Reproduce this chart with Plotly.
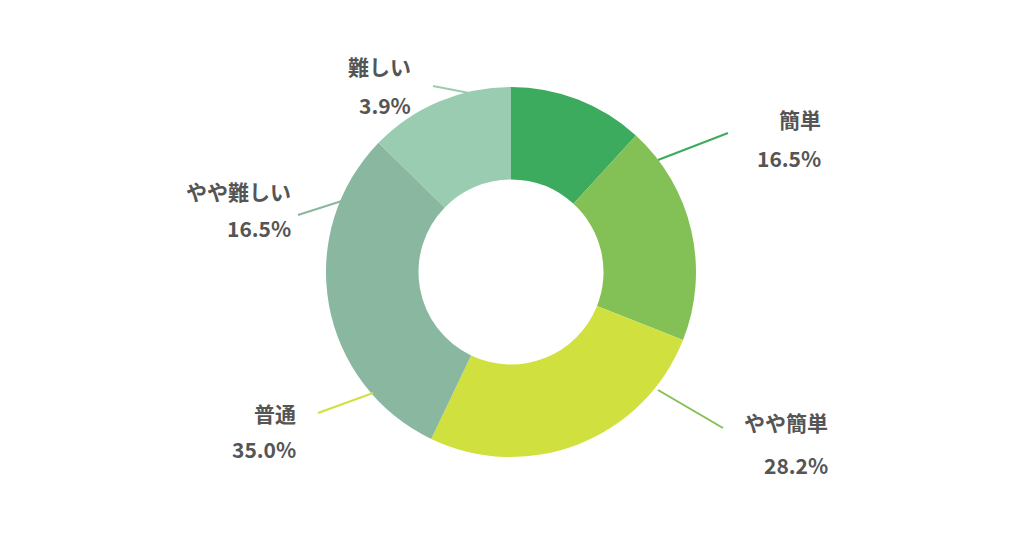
import plotly.graph_objects as go

# slice sizes as drawn in the picture (clockwise from top)
categories = ["簡単", "やや簡単", "普通", "やや難しい", "難しい"]
slice_values = [11.8, 19.2, 26.1, 30.2, 12.7]
pct_labels = ["16.5%", "28.2%", "35.0%", "16.5%", "3.9%"]
colors = ["#3dab5d", "#83c056", "#cfe03f", "#89b7a0", "#99ccb0"]

W, H = 1024, 538

fig = go.Figure(go.Pie(
    labels=categories,
    values=slice_values,
    hole=0.5,
    sort=False,
    direction="clockwise",
    rotation=0,
    marker=dict(colors=colors, line=dict(width=0)),
    textinfo="none",
    hoverinfo="label",
    domain=dict(x=[(503 - 185) / W, (503 + 185) / W], y=[(538 - 449) / H, (538 - 79) / H]),
    showlegend=False,
))

# label right edge x, name line y, percent line y, in pixels
label_pos = [(815, 111, 150), (822, 414, 457), (290, 405, 441), (285, 183, 220), (405, 58, 97)]
leaders = [((650, 152), (720, 125)), ((650, 382), (715, 420)),
           ((310, 405), (365, 385)), ((290, 207), (340, 191)),
           ((425, 78), (482, 89))]

font = dict(size=21, color="#555555", family="Noto Sans CJK JP")
for cat, pct, col, (lx, y1_, y2_), ((x0, y0), (x1, y1)) in zip(categories, pct_labels, colors, label_pos, leaders):
    for txt, ty in ((cat, y1_), (pct, y2_)):
        fig.add_annotation(
            x=lx / W, y=1 - ty / H, xref="paper", yref="paper",
            xanchor="right", yanchor="middle",
            text=f"<b>{txt}</b>", showarrow=False, font=font,
        )
    fig.add_shape(type="line", xref="paper", yref="paper",
                  x0=x0 / W, y0=1 - y0 / H, x1=x1 / W, y1=1 - y1 / H,
                  line=dict(color=col, width=2))

fig.update_layout(
    width=W, height=H,
    margin=dict(l=0, r=0, t=0, b=0),
    paper_bgcolor="white",
    plot_bgcolor="white",
)

fig.write_html("out.html")
